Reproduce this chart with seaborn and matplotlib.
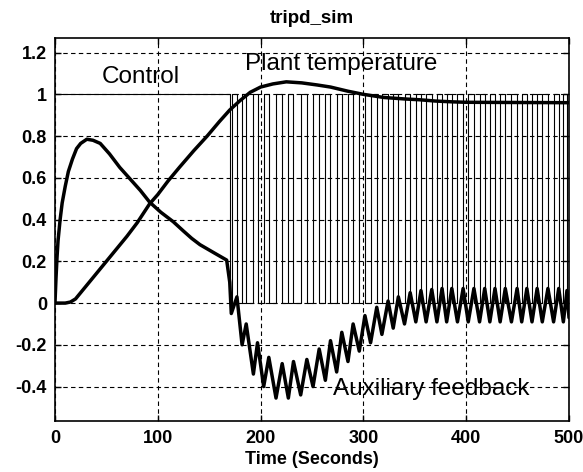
import numpy as np
import pandas as pd
import seaborn as sns
import matplotlib
matplotlib.use("Agg")
import matplotlib.pyplot as plt

# --- data ---
temp_t = [0, 10, 15, 20, 25, 30, 40, 50, 60, 70, 80, 92, 100, 110, 121, 135, 148,
          160, 170, 180, 190, 200, 212, 225, 240, 255, 268, 285, 300, 320, 340,
          355, 370, 387, 400, 450, 500]
temp_v = [0, 0, 0.005, 0.02, 0.05, 0.08, 0.14, 0.2, 0.26, 0.32, 0.385, 0.475, 0.52,
          0.585, 0.65, 0.73, 0.8, 0.87, 0.925, 0.97, 1.01, 1.035, 1.05, 1.06, 1.055,
          1.045, 1.035, 1.015, 1.0, 0.985, 0.978, 0.974, 0.968, 0.964, 0.962, 0.961, 0.96]

aux_t = [0, 1, 2, 3, 5, 7, 10, 13, 17, 21, 25, 31, 37, 44, 53, 63, 73, 83, 92, 103,
         115, 125, 133, 141, 155, 167, 170, 171.5, 177, 182, 186, 193, 197, 203, 208,
         215, 221, 227, 232, 239, 245, 251, 257, 263, 268, 274, 279, 285, 290, 296,
         301.5, 307, 313, 318, 324, 329, 334, 340, 345.5, 351, 356, 361, 366.5, 371.5,
         376.5, 381, 386, 391.5, 397, 402, 407.5, 413, 418, 423, 428, 433, 438, 444,
         449.5, 454, 459, 464, 469, 474, 479.5, 485, 490, 494.5, 498, 500]
aux_v = [0, 0.12, 0.22, 0.3, 0.4, 0.48, 0.56, 0.63, 0.69, 0.74, 0.765, 0.785, 0.78,
         0.765, 0.715, 0.65, 0.595, 0.54, 0.484, 0.435, 0.39, 0.345, 0.31, 0.28, 0.24,
         0.206, 0.1, -0.05, 0.03, -0.2, -0.10, -0.34, -0.19, -0.40, -0.26, -0.455,
         -0.29, -0.455, -0.28, -0.44, -0.27, -0.40, -0.22, -0.37, -0.18, -0.33, -0.14,
         -0.28, -0.10, -0.23, -0.06, -0.19, -0.02, -0.15, 0.01, -0.12, 0.03, -0.10,
         0.05, -0.09, 0.06, -0.09, 0.065, -0.09, 0.07, -0.09, 0.07, -0.09, 0.07, -0.09,
         0.07, -0.09, 0.07, -0.09, 0.07, -0.09, 0.07, -0.09, 0.07, -0.09, 0.07, -0.09,
         0.07, -0.09, 0.07, -0.09, 0.07, -0.09, 0.06, -0.07]

# control: full on until switching starts, then on/off pulses
ctrl_full_end = 170
pwm_on = [172, 182, 193, 203, 215, 227, 239, 251, 263, 274, 285, 296, 307, 318, 329,
          340, 351, 361, 371.5, 381, 391.5, 402, 413, 423, 433, 444, 454, 464, 474,
          485, 494.5]
pwm_off = [177, 186, 197, 208, 221, 232, 245, 257, 268, 279, 290, 301.5, 313, 324,
           334, 345.5, 356, 366.5, 376.5, 386, 397, 407.5, 418, 428, 438, 449.5, 459,
           469, 479.5, 490, 498]

ytick_vals = [-0.4, -0.2, 0, 0.2, 0.4, 0.6, 0.8, 1, 1.2]
ytick_labels = ["-0.4", "-0.2", "0", "0.2", "0.4", "0.6", "0.8", "1", "1.2"]
xtick_vals = [0, 100, 200, 300, 400, 500]

# step outline of the control signal
ct = [0, ctrl_full_end, ctrl_full_end]
cv = [1, 1, 0]
for on, off in zip(pwm_on, pwm_off):
    ct += [on, on, off, off]
    cv += [0, 1, 1, 0]
ct.append(500)
cv.append(0)

ctrl_df = pd.DataFrame({"t": ct, "v": cv})
temp_df = pd.DataFrame({"t": temp_t, "v": temp_v})
aux_df = pd.DataFrame({"t": aux_t, "v": aux_v})

sns.set_theme(style="white")
plt.rcParams['font.family'] = ['Liberation Sans', 'DejaVu Sans']
plt.rcParams['text.color'] = 'black'
plt.rcParams['axes.labelcolor'] = 'black'

fig = plt.figure(figsize=(5.83, 4.72), dpi=100)
ax = fig.add_axes([0.0943, 0.108, 0.8817, 0.8115])

sns.lineplot(data=ctrl_df, x="t", y="v", color="black", linewidth=0.8,
             estimator=None, sort=False, ax=ax)
sns.lineplot(data=temp_df, x="t", y="v", color="black", linewidth=2.5,
             estimator=None, sort=False, ax=ax)
sns.lineplot(data=aux_df, x="t", y="v", color="black", linewidth=2.5,
             estimator=None, sort=False, ax=ax)

ax.set_xlim(0, 500)
ax.set_ylim(-0.565, 1.27)
ax.set_xticks(xtick_vals)
ax.set_xticklabels([str(v) for v in xtick_vals])
ax.set_yticks(ytick_vals)
ax.set_yticklabels(ytick_labels)

ax.set_axisbelow(True)
ax.grid(True, color="black", linestyle=(0, (4, 3)), linewidth=0.8)
ax.tick_params(direction="in", length=4, width=1, colors="black",
               top=True, right=True, bottom=True, left=True, labelsize=13)
ax.tick_params(axis="x", pad=6.5)
ax.tick_params(axis="y", pad=5.8)
for lbl in ax.get_xticklabels() + ax.get_yticklabels():
    lbl.set_fontweight("bold")
for sp in ax.spines.values():
    sp.set_color("black")
    sp.set_linewidth(1.2)

ax.set_title("tripd_sim", fontsize=13.5, fontweight="bold", pad=11, color="black")
ax.set_xlabel("Time (Seconds)", fontsize=13, fontweight="bold", labelpad=3)
ax.set_ylabel("")

ax.text(45.4, 1.055, "Control", fontsize=17.5, ha="left", va="baseline", color="black")
ax.text(184.8, 1.117, "Plant temperature", fontsize=17.5, ha="left", va="baseline",
        color="black")
ax.text(270.4, -0.441, "Auxiliary feedback", fontsize=17.5, ha="left", va="baseline",
        color="black")

fig.savefig("out.png", dpi=100, facecolor="white")
